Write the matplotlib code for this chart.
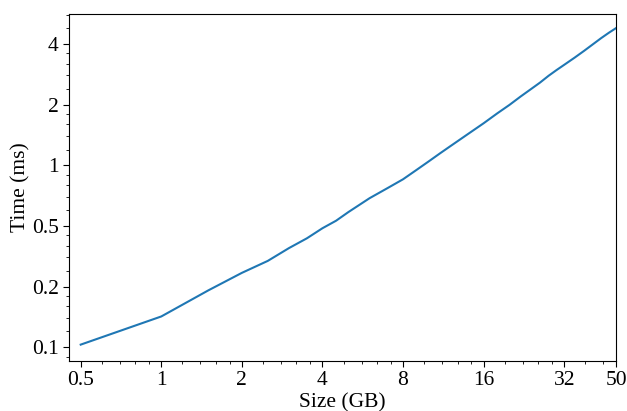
import matplotlib
matplotlib.use('Agg')
import matplotlib.pyplot as plt
from matplotlib.ticker import FixedLocator, LogLocator, FuncFormatter

plt.rcParams['font.family'] = ['Liberation Serif', 'DejaVu Serif']
plt.rcParams['mathtext.fontset'] = 'stix'

sizes = [0.5, 1, 1.5, 2, 2.5, 3, 3.5, 4, 4.5, 5, 6, 7, 8, 9, 10, 11, 12, 14, 16,
         18, 20, 22, 24, 26, 28, 30, 32, 35, 38, 41, 44, 47, 50]
times = [0.129, 0.178, 0.240, 0.293, 0.336, 0.389, 0.435, 0.488, 0.532, 0.587,
         0.688, 0.772, 0.854, 0.952, 1.050, 1.149, 1.245, 1.434, 1.62,
         1.815, 2.00, 2.20, 2.39, 2.58, 2.79, 2.98, 3.16, 3.43, 3.71, 4.00,
         4.29, 4.56, 4.81]

xticks = [0.5, 1, 2, 4, 8, 16, 32, 50]
xticklabels = ['0.5', '1', '2', '4', '8', '16', '32', '50']

fig = plt.figure(figsize=(6.27, 4.11), dpi=100)
ax = fig.add_axes([0.110, 0.1217, 0.8725, 0.8453])

ax.plot(sizes, times, color='#1f77b4', linewidth=1.5)

ax.set_xscale('log', base=2)
ax.set_yscale('log', base=2)
ax.set_xlim(0.452, 50)
ax.set_ylim(0.107, 5.68)

ax.xaxis.set_major_locator(FixedLocator(xticks))
ax.set_xticklabels(xticklabels)
ax.xaxis.set_minor_locator(LogLocator(base=2, subs=(1.2, 1.4, 1.6, 1.8)))
ax.xaxis.set_minor_formatter(FuncFormatter(lambda v, p: ''))

ax.yaxis.set_major_locator(LogLocator(base=2))
ax.yaxis.set_major_formatter(FuncFormatter(lambda v, p: '%.1g' % v))
ax.yaxis.set_minor_locator(LogLocator(base=2, subs=(1.2, 1.4, 1.6, 1.8)))
ax.yaxis.set_minor_formatter(FuncFormatter(lambda v, p: ''))

ax.tick_params(which='major', labelsize=15.5, length=4)
ax.tick_params(which='minor', length=2.5)

ax.set_xlabel('Size (GB)', fontsize=15.5, labelpad=2)
ax.set_ylabel('Time (ms)', fontsize=15.5, labelpad=1)

fig.savefig('out.png', dpi=100)
